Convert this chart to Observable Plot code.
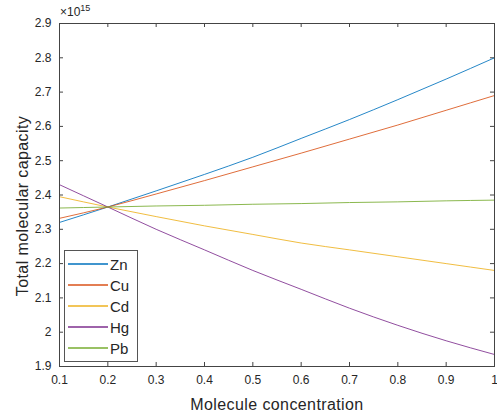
<!DOCTYPE html>
<html>
<head>
<meta charset="utf-8">
<script src="https://cdn.jsdelivr.net/npm/d3@7"></script>
<script src="https://cdn.jsdelivr.net/npm/@observablehq/plot@0.6"></script>
<style>
  html, body { margin: 0; padding: 0; background: #fff; }
  #wrap { position: relative; width: 497px; height: 414px; font-family: "Liberation Sans", Arial, sans-serif; }
  #exp { position: absolute; left: 60px; top: 3px; font-size: 12px; color: #262626; }
  #exp sup { font-size: 9px; }
  #legend { position: absolute; left: 64px; top: 250px; width: 74px; height: 112px; border: 1px solid #555; background: #fff; box-sizing: border-box; }
  .item { position: absolute; left: 3px; height: 20px; display: flex; align-items: center; }
  .item span.sw { display: inline-block; width: 40px; height: 1.2px; margin-right: 2px; opacity: 0.75; }
  .item span.lb { font-size: 15px; color: #262626; }
  g[aria-label="text"] text { letter-spacing: 0.4px; }
</style>
</head>
<body>
<div id="wrap">
  <div id="chart"></div>
  <div id="exp">×10<sup>15</sup></div>
  <div id="legend"></div>
</div>
<script>
const xs = [0.1, 0.2, 0.3, 0.4, 0.5, 0.6, 0.7, 0.8, 0.9, 1.0];
const series = ["Zn", "Cu", "Cd", "Hg", "Pb"];
const zn = [2.320, 2.365, 2.412, 2.460, 2.510, 2.565, 2.620, 2.678, 2.738, 2.800];
const cu = [2.332, 2.365, 2.403, 2.442, 2.482, 2.522, 2.563, 2.604, 2.647, 2.690];
const cd = [2.395, 2.365, 2.337, 2.310, 2.285, 2.260, 2.240, 2.220, 2.200, 2.180];
const hg = [2.430, 2.365, 2.300, 2.240, 2.180, 2.125, 2.070, 2.020, 1.975, 1.935];
const pb = [2.362, 2.365, 2.368, 2.370, 2.373, 2.375, 2.378, 2.380, 2.383, 2.385];
const colors = ["#0072BD", "#D95319", "#EDB120", "#7E2F8E", "#77AC30"];
const xTicks = [0.1, 0.2, 0.3, 0.4, 0.5, 0.6, 0.7, 0.8, 0.9, 1];
const yTicks = [1.9, 2, 2.1, 2.2, 2.3, 2.4, 2.5, 2.6, 2.7, 2.8, 2.9];
const xTitle = "Molecule concentration";
const yTitle = "Total molecular capacity";

const values = [zn, cu, cd, hg, pb];
const rows = [];
series.forEach((s, i) => xs.forEach((x, j) => rows.push({series: s, x, y: values[i][j]})));

const tx = 0.0083, ty = 0.0117;
const fmt = d => String(+d.toFixed(1));
const chart = Plot.plot({
  width: 497,
  height: 414,
  marginLeft: 59,
  marginRight: 3,
  marginTop: 23,
  marginBottom: 48,
  style: {fontFamily: "Liberation Sans, Arial, sans-serif", fontSize: "12px", color: "#262626", background: "#fff"},
  x: {domain: [0.1, 1]},
  y: {domain: [1.9, 2.9]},
  color: {domain: series, range: colors},
  marks: [
    Plot.axisX({ticks: xTicks, tickSize: 0, tickPadding: 9, tickFormat: fmt, fontSize: 12, label: null}),
    Plot.axisY({ticks: yTicks, tickSize: 0, tickPadding: 8, tickFormat: fmt, fontSize: 12, label: null}),
    Plot.text([xTitle], {text: d => d, frameAnchor: "bottom", textAnchor: "middle", dy: 38, lineAnchor: "middle", fontSize: 16, fill: "#262626"}),
    Plot.text([yTitle], {text: d => d, frameAnchor: "left", textAnchor: "middle", rotate: -90, dx: -37, dy: 11, lineAnchor: "middle", fontSize: 16, fill: "#262626"}),
    Plot.ruleX(xTicks, {x: d => d, y1: 1.9, y2: 1.9 + ty, stroke: "#444"}),
    Plot.ruleX(xTicks, {x: d => d, y1: 2.9 - ty, y2: 2.9, stroke: "#444"}),
    Plot.ruleY(yTicks, {y: d => d, x1: 0.1, x2: 0.1 + tx, stroke: "#444"}),
    Plot.ruleY(yTicks, {y: d => d, x1: 1 - tx, x2: 1, stroke: "#444"}),
    Plot.line(rows, {x: "x", y: "y", z: "series", stroke: "series", strokeWidth: 1, strokeOpacity: 0.85, curve: "monotone-x"}),
    Plot.frame({stroke: "#444"})
  ]
});
document.getElementById("chart").appendChild(chart);

const leg = document.getElementById("legend");
series.forEach((s, i) => {
  const d = document.createElement("div");
  d.className = "item";
  d.style.top = (3 + i * 21) + "px";
  d.innerHTML = `<span class="sw" style="background:${colors[i]}"></span><span class="lb">${s}</span>`;
  leg.appendChild(d);
});
</script>
</body>
</html>
